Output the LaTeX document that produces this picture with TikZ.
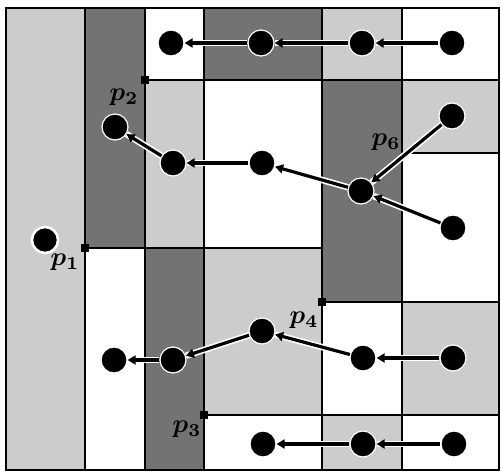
\documentclass[tikz,border=0pt]{standalone}
\usepackage{graphicx}
\usetikzlibrary{arrows.meta}
\newcommand{\plabel}[1]{\scalebox{2.6}{\boldmath$p_{#1}$}}
\begin{document}
\begin{tikzpicture}[x=1pt,y=-1pt,
  gridline/.style={line width=1.6pt},
  darkcell/.style={fill=black!55},
  lightcell/.style={fill=black!20},
  vtx/.style={circle,fill=black,draw=white,line width=1.2pt,minimum size=26pt,inner sep=0pt},
  edge/.style={line width=3.2pt,-{Triangle[length=8pt,width=9pt]},preaction={draw=white,line width=6.5pt,-}},
  corner/.style={fill=black,minimum size=8pt,inner sep=0pt},
  lbl/.style={inner sep=0pt}]
\useasboundingbox (0,0) rectangle (501,473);
% cells
\fill[lightcell] (6,8) rectangle (85,470);
\fill[darkcell] (85,8) rectangle (145,248);
\fill[lightcell] (145,80) rectangle (204,248);
\fill[darkcell] (145,248) rectangle (204,470);
\fill[darkcell] (204,8) rectangle (322,80);
\fill[lightcell] (204,248) rectangle (322,415);
\fill[lightcell] (322,8) rectangle (402,80);
\fill[darkcell] (322,80) rectangle (402,302);
\fill[lightcell] (322,415) rectangle (402,470);
\fill[lightcell] (402,80) rectangle (499,153);
\fill[lightcell] (402,302) rectangle (499,415);
% grid
\draw[gridline] (6,8) rectangle (499,470);
\draw[gridline] (85,8) -- (85,470);
\draw[gridline] (145,8) -- (145,470);
\draw[gridline] (204,8) -- (204,470);
\draw[gridline] (322,8) -- (322,470);
\draw[gridline] (402,8) -- (402,470);
\draw[gridline] (145,80) -- (499,80);
\draw[gridline] (402,153) -- (499,153);
\draw[gridline] (85,248) -- (322,248);
\draw[gridline] (322,302) -- (499,302);
\draw[gridline] (204,415) -- (499,415);
% corner points
\node[corner] (c2) at (145,80) {};
\node[corner] (c1) at (85,248) {};
\node[corner] (c4) at (322,302) {};
\node[corner] (c3) at (204,415) {};
% labels
\node[lbl] (l2) at (124,97) {\plabel{2}};
\node[lbl] (l1) at (65,262) {\plabel{1}};
\node[lbl] (l6) at (386,142) {\plabel{6}};
\node[lbl] (l4) at (304,320) {\plabel{4}};
\node[lbl] (l3) at (187,429) {\plabel{3}};
% vertices
\node[vtx] (r1a) at (171,43) {};
\node[vtx] (r1b) at (261,43) {};
\node[vtx] (r1c) at (362,43) {};
\node[vtx] (r1d) at (452,43) {};
\node[vtx] (r2a) at (115,127) {};
\node[vtx] (r2b) at (173,163) {};
\node[vtx] (r2c) at (262,163) {};
\node[vtx] (r2d) at (361,191) {};
\node[vtx] (r2e) at (452,116) {};
\node[vtx] (r2f) at (453,228) {};
\node[vtx,line width=2.5pt] (iso) at (45,240) {};
\node[vtx] (r4a) at (114,360) {};
\node[vtx] (r4b) at (173,360) {};
\node[vtx] (r4c) at (262,331) {};
\node[vtx] (r4d) at (363,358) {};
\node[vtx] (r4e) at (453,358) {};
\node[vtx] (r5a) at (263,444) {};
\node[vtx] (r5b) at (363,444) {};
\node[vtx] (r5c) at (454,444) {};
% edges
\draw[edge] (r1b) -- (r1a);
\draw[edge] (r1c) -- (r1b);
\draw[edge] (r1d) -- (r1c);
\draw[edge] (r2b) -- (r2a);
\draw[edge] (r2c) -- (r2b);
\draw[edge] (r2d) -- (r2c);
\draw[edge] (r2e) -- (r2d);
\draw[edge] (r2f) -- (r2d);
\draw[edge] (r4b) -- (r4a);
\draw[edge] (r4c) -- (r4b);
\draw[edge] (r4d) -- (r4c);
\draw[edge] (r4e) -- (r4d);
\draw[edge] (r5b) -- (r5a);
\draw[edge] (r5c) -- (r5b);
\end{tikzpicture}
\end{document}
